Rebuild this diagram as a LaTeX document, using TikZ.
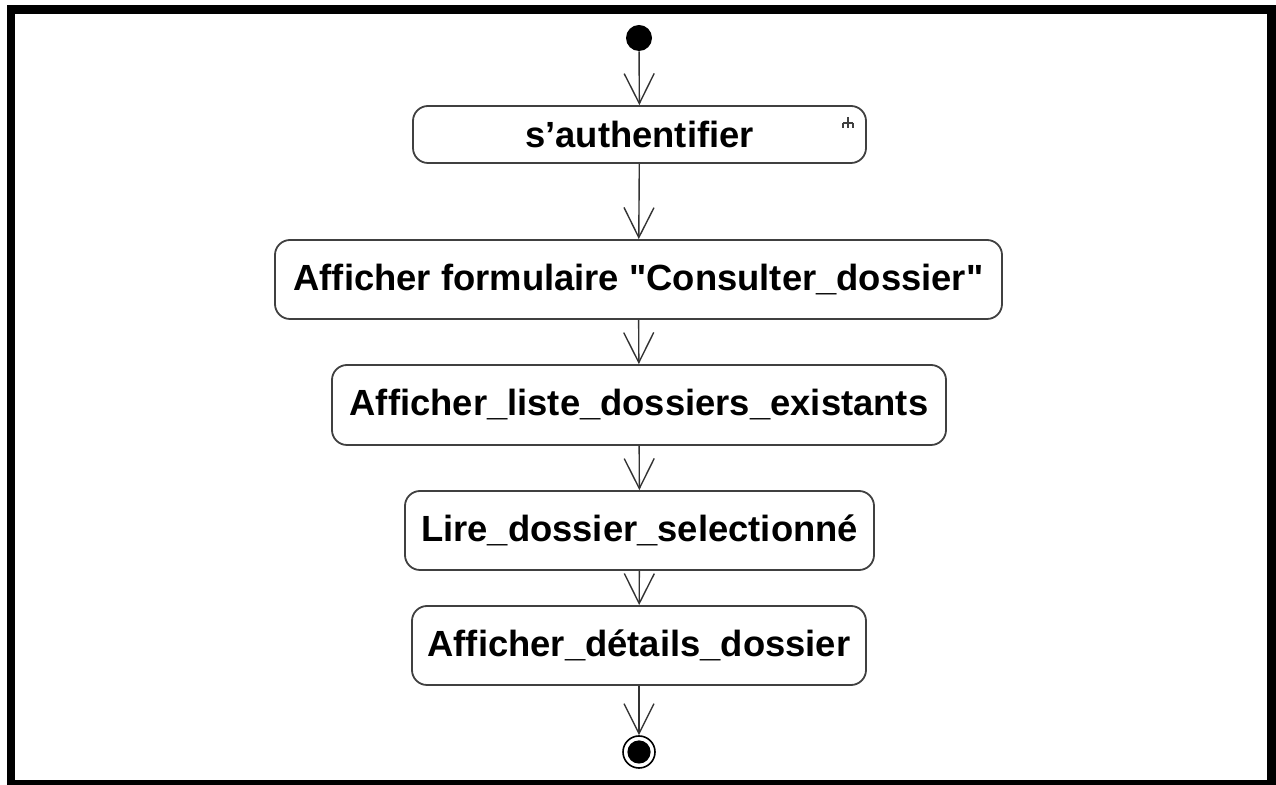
\documentclass[tikz,border=0pt]{standalone}
\usepackage{fontspec}
\setmainfont{Liberation Sans}
\newfontfamily\rawsans[Ligatures=ResetAll]{Liberation Sans}
\newcommand{\sq}{{\rawsans\bfseries"}}
\usetikzlibrary{arrows.meta}
\begin{document}
\begin{tikzpicture}[x=0.5pt,y=-0.5pt,
  action/.style={draw=black!75, line width=0.9pt, rounded corners=7.5pt,
    fill=white, inner sep=0pt, font=\fontsize{18.2}{21}\selectfont\bfseries},
  flow/.style={draw=black!80, line width=0.7pt,
    -{Straight Barb[length=15pt,width=15pt,line width=0.7pt]}},
  startdot/.style={circle, fill=black, minimum size=13pt, inner sep=0pt},
  enddot/.style={circle, draw=black, line width=0.8pt, fill=white,
    minimum size=16pt, inner sep=0pt}]
% frame
\useasboundingbox (0,0) rectangle (1276,785);
\fill[black] (7,5) rectangle (1276,785);
\fill[white] (15,14) rectangle (1267,780);
% states and actions
\node[startdot] (start) at (639,38) {};
\node[action, minimum width=226.5pt, minimum height=28.5pt] (auth) at (639.5,134.5) {s'authentifier};
\node[action, minimum width=363.5pt, minimum height=39.5pt] (form) at (638.5,279.5) {Afficher formulaire \sq Consulter\_dossier\sq};
\node[action, minimum width=307pt, minimum height=40pt] (liste) at (639,405) {Afficher\_liste\_dossiers\_existants};
\node[action, minimum width=234.5pt, minimum height=39.5pt] (lire) at (639.5,530.5) {Lire\_dossier\_selectionné};
\node[action, minimum width=227pt, minimum height=39.5pt] (details) at (639,645.5) {Afficher\_détails\_dossier};
\node[enddot] (stop) at (639,752) {};
\fill[black] (stop.center) circle (5.8pt);
% rake symbol of the sub-activity
\coordinate (rk) at (848,123);
\draw[black!75, line width=0.6pt]
  (rk) ++(0,-6) -- ++(0,11)
  (rk) ++(-5,0) -- ++(10,0)
  (rk) ++(-5,0) -- ++(0,5)
  (rk) ++(5,0) -- ++(0,5);
% control flows
\draw[flow] (start) -- (auth);
\draw[flow] (auth) -- (form);
\draw[flow] (form) -- (liste);
\draw[flow] (liste) -- (lire);
\draw[flow] (lire) -- (details);
\draw[flow] (details) -- (stop);
\end{tikzpicture}
\end{document}
